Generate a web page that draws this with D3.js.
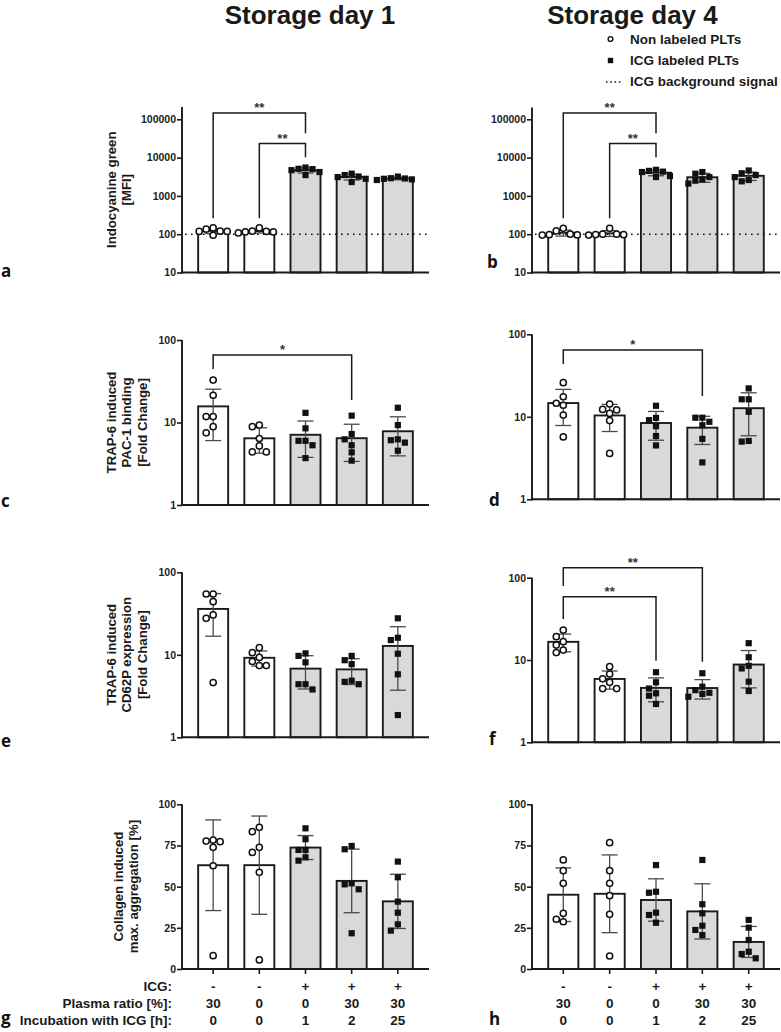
<!DOCTYPE html>
<html><head><meta charset="utf-8">
<script src="https://cdn.jsdelivr.net/npm/d3@7"></script>
<style>body{margin:0;background:#fff}svg{display:block}</style>
</head><body>
<svg id="c" width="781" height="1032"></svg>
<script>
// ---------------- DATA ----------------
const groups = ["G1","G2","G3","G4","G5"];
const labeled = [false,false,true,true,true];
const icgRow = ["-","-","+","+","+"];
const plasmaRow = ["30","0","0","30","30"];
const incubRow = ["0","0","1","2","25"];
const rowLabels = ["ICG:","Plasma ratio [%]:","Incubation with ICG [h]:"];
const colTitles = ["Storage day 1","Storage day 4"];
const legendLabels = ["Non labeled PLTs","ICG labeled PLTs","ICG background signal"];
const icgBackground = 100;

const logTicksICG = [10,100,1000,10000,100000];
const logTicksFold = [1,10,100];
const linTicksAgg = [0,25,50,75,100];

// points per group (6 donors)
const icgDay1 = [[135,118,118,146,120,94],[115,115,118,146,120,108],[5000,5100,5500,4700,4200,3500],[3200,3500,3100,3800,2800,2300],[2900,2850,2800,3200,2700,2600]];
const icgDay4 = [[122,100,142,96,97,95],[98,97,100,142,100,95],[4300,4200,4800,4500,3300,3100],[3800,3100,2700,2500,2100,4200],[3500,4600,3900,3100,2600,2400]];
const pac1Day1 = [[32.7,21.4,11.8,11.8,8.9,7.5],[8.9,9.3,6.4,5.2,4.4,4.4],[13.1,8.5,6.0,6.0,5.3,3.7],[12.1,7.25,6.25,5.3,4.35,3.45],[15.1,9.3,6.25,6.1,5.7,4.55]];
const pac1Day4 = [[25.9,17.5,14.6,13.8,10.5,5.7],[12.3,11,12.1,14.3,9,3.6],[13.6,9.7,9.1,7.7,5.85,4.5],[9.75,8.7,9.75,7.9,5.4,2.8],[22.1,16.3,16.3,11.5,5.1,5.0]];
const cd62pDay1 = [[54.6,54.6,44,30.4,27.7,4.6],[12.2,10.6,9.3,8.3,7.4,7.4],[10.4,9.7,8.1,4.4,4.4,3.8],[9.7,8.6,7.7,4.85,4.7,4.4],[27.7,16.1,15.1,10.3,5.8,1.86]];
const cd62pDay4 = [[23.1,19.2,16.7,15.2,13.2,12.3],[8.3,6.76,5.9,5.36,4.5,4.5],[7.1,5.36,4.5,3.94,3.68,2.92],[6.9,4.3,4.0,4.74,3.87,3.58],[16,10.8,8.5,7.9,5.45,4.2]];
const aggDay1 = [[77.7,77.3,73.9,78.3,62.7,8.1],[83.4,86,73.9,70.8,58.7,5.5],[85.4,78.8,72.3,72.3,67.8,65.8],[72.7,74.7,52,51.4,48.4,21.7],[65.2,55.7,40.9,34.2,27.1,23.3]];
const aggDay4 = [[66.2,59.7,52,33.8,30.2,28.7],[76.7,59.7,52,44.5,33.2,7.9],[63.1,46.9,46.3,34.2,32.8,28.1],[66.2,39.3,33.8,26.3,23.7,20.6],[29.8,25.1,17.6,10.5,9.1,6.5]];

// significance: [groupA, groupB, label, lineValue, legEndA, legEndB] (values in data units)
const sigA = [[0,2,"**",146900,262,43300],[1,2,"**",23300,262,10200]];
const sigB = [[0,2,"**",146900,262,43300],[1,2,"**",23300,262,10200]];
const sigC = [[0,3,"*",65.8,44.5,18.7]];
const sigD = [[0,3,"*",64.5,43.6,17.9]];
const sigE = [];
const sigF = [[0,3,"**",132,79.3,9.5],[0,2,"**",58.8,31.5,9.8]];
const sigG = [];
const sigH = [];

const titleA = ["Indocyanine green","[MFI]"];
const titleC = ["TRAP-6 induced","PAC-1 binding","[Fold Change]"];
const titleE = ["TRAP-6 induced","CD62P expression","[Fold Change]"];
const titleG = ["Collagen induced","max. aggregation [%]"];

// ---------------- LAYOUT ----------------
const FONT = "'Liberation Sans', Arial, Helvetica, sans-serif";
const TXT = "#1a1a1a";
const cols = [{x0:182, x1:429}, {x0:532, x1:780}];
const panels = [
  {L:"a", col:0, data:icgDay1, type:"log", dom:[10,1e5], rng:[272.5,119.3], top:107, ticks:logTicksICG, bg:true, sig:sigA, title:titleA, tx:[116,131], lp:[1,276.5]},
  {L:"b", col:1, data:icgDay4, type:"log", dom:[10,1e5], rng:[272.5,119.3], top:107.5, ticks:logTicksICG, bg:true, sig:sigB, title:null, lp:[487,268]},
  {L:"c", col:0, data:pac1Day1, type:"log", dom:[1,100], rng:[505,340], top:340, ticks:logTicksFold, sig:sigC, title:titleC, tx:[115.5,131.3,147], lp:[1,507]},
  {L:"d", col:1, data:pac1Day4, type:"log", dom:[1,100], rng:[499.3,334.3], top:334.3, ticks:logTicksFold, sig:sigD, title:null, lp:[489,506]},
  {L:"e", col:0, data:cd62pDay1, type:"log", dom:[1,100], rng:[737.3,572.3], top:572.3, ticks:logTicksFold, sig:sigE, title:titleE, tx:[115.5,131.3,147], lp:[1,747]},
  {L:"f", col:1, data:cd62pDay4, type:"log", dom:[1,100], rng:[742.3,577.7], top:577.7, ticks:logTicksFold, sig:sigF, title:null, lp:[489,745]},
  {L:"g", col:0, data:aggDay1, type:"lin", dom:[0,100], rng:[969,804.3], top:804.3, ticks:linTicksAgg, sig:sigG, title:titleG, tx:[123,138], lp:[1,1024], xt:true},
  {L:"h", col:1, data:aggDay4, type:"lin", dom:[0,100], rng:[969,804.3], top:804.3, ticks:linTicksAgg, sig:sigH, title:null, lp:[489,1025], xt:true}
];

const svg = d3.select("#c");

// column titles
const titleX = [310, 632.5];
colTitles.forEach((t,i)=>{
  svg.append("text").attr("x",titleX[i]).attr("y",24).attr("text-anchor","middle")
    .attr("font-family",FONT).attr("font-weight","bold").attr("font-size",26).attr("fill",TXT).text(t);
});

// legend
const lg = svg.append("g").attr("font-family",FONT).attr("font-weight","bold").attr("font-size",13.5).attr("fill",TXT);
lg.append("circle").attr("cx",610.5).attr("cy",39).attr("r",2.4).attr("fill","#fff").attr("stroke","#111").attr("stroke-width",1.4);
lg.append("rect").attr("x",607.8).attr("y",57.8).attr("width",5.4).attr("height",5.4).attr("fill","#111");
lg.append("line").attr("x1",606).attr("x2",621).attr("y1",82).attr("y2",82).attr("stroke","#111").attr("stroke-width",1.5).attr("stroke-dasharray","1.5,2.8");
legendLabels.forEach((t,i)=>{
  lg.append("text").attr("x",630).attr("y",[43.8,65,86.3][i]).text(t);
});

function swarm(vals, y, cx, d){
  const pts = vals.map(v=>({v, y:y(v)})).sort((a,b)=>a.y-b.y);
  const placed = [];
  pts.forEach(p=>{
    for(let k=0;k<30;k++){
      const off = k===0?0:(k%2===1?-1:1)*Math.ceil(k/2)*d;
      const hit = placed.some(q=>Math.hypot(q.off-off, q.y-p.y) < d*0.97);
      if(!hit){ p.off=off; break; }
    }
    placed.push(p);
  });
  return placed.map(p=>({v:p.v, x:cx+p.off, y:p.y}));
}

panels.forEach(P=>{
  const C = cols[P.col];
  const g = svg.append("g");
  const x = d3.scaleBand().domain(groups).range([C.x0, C.x1]).paddingInner(0.35).paddingOuter(0.35);
  const y = (P.type==="log"? d3.scaleLog(): d3.scaleLinear()).domain(P.dom).range(P.rng);
  const y0 = P.rng[0];
  const bw = x.bandwidth();

  // stats
  const stats = P.data.map(arr=>({mean:d3.mean(arr), sd:d3.deviation(arr)}));

  // bars
  g.selectAll("rect.bar").data(groups).join("rect").attr("class","bar")
    .attr("x",d=>x(d)).attr("width",bw)
    .attr("y",(d,i)=>y(stats[i].mean)).attr("height",(d,i)=>y0-y(stats[i].mean))
    .attr("fill",(d,i)=>labeled[i]?"#d9d9d9":"#ffffff")
    .attr("stroke","#1a1a1a").attr("stroke-width",1.9);

  // background line
  if(P.bg){
    g.append("line").attr("x1",C.x0+3).attr("x2",C.x1-2).attr("y1",y(icgBackground)).attr("y2",y(icgBackground))
      .attr("stroke","#111").attr("stroke-width",1.6).attr("stroke-dasharray","1.6,4.4");
  }

  // error bars
  groups.forEach((gr,i)=>{
    const cx = x(gr)+bw/2, s=stats[i];
    const hi = y(s.mean+s.sd);
    const lo = y(Math.max(s.mean-s.sd, P.dom[0]));
    const eg = g.append("g").attr("stroke","#4a4a4a").attr("stroke-width",1.3);
    eg.append("line").attr("x1",cx).attr("x2",cx).attr("y1",hi).attr("y2",lo);
    eg.append("line").attr("x1",cx-8).attr("x2",cx+8).attr("y1",hi).attr("y2",hi);
    if(s.mean-s.sd>P.dom[0]) eg.append("line").attr("x1",cx-8).attr("x2",cx+8).attr("y1",lo).attr("y2",lo);
  });

  // points
  groups.forEach((gr,i)=>{
    const cx = x(gr)+bw/2;
    const pts = swarm(P.data[i], y, cx, 7);
    if(labeled[i]){
      g.selectAll(null).data(pts).join("rect")
        .attr("x",p=>p.x-3.1).attr("y",p=>p.y-3.1).attr("width",6.2).attr("height",6.2).attr("fill","#111");
    } else {
      g.selectAll(null).data(pts).join("circle")
        .attr("cx",p=>p.x).attr("cy",p=>p.y).attr("r",3.1)
        .attr("fill","#fff").attr("stroke","#111").attr("stroke-width",1.5);
    }
  });

  // y axis
  const ax = g.append("g").attr("transform",`translate(${C.x0},0)`)
    .call(d3.axisLeft(y).tickValues(P.ticks).tickSize(5).tickSizeOuter(0).tickFormat(d3.format("d")));
  ax.select(".domain").remove();
  ax.selectAll(".tick line").attr("stroke","#1a1a1a").attr("stroke-width",1.6);
  ax.selectAll(".tick text").attr("font-family",FONT).attr("font-weight","bold").attr("font-size",10.5).attr("fill","#222").attr("x",-6);
  g.append("line").attr("x1",C.x0).attr("x2",C.x0).attr("y1",y0+1).attr("y2",P.top).attr("stroke","#1a1a1a").attr("stroke-width",1.9);
  // x axis
  g.append("line").attr("x1",C.x0-1).attr("x2",C.x1).attr("y1",y0).attr("y2",y0).attr("stroke","#1a1a1a").attr("stroke-width",1.9);
  if(P.xt){
    const xa = g.append("g").attr("transform",`translate(0,${y0})`).call(d3.axisBottom(x).tickSize(5).tickSizeOuter(0).tickFormat(""));
    xa.select(".domain").remove();
    xa.selectAll(".tick line").attr("stroke","#1a1a1a").attr("stroke-width",1.6);
    const rows=[icgRow,plasmaRow,incubRow], rowY=[991,1007.5,1025];
    rows.forEach((r,ri)=>{
      g.selectAll(null).data(groups).join("text")
        .attr("x",d=>x(d)+bw/2).attr("y",rowY[ri]).attr("text-anchor","middle")
        .attr("font-family",FONT).attr("font-weight","bold").attr("font-size",13.5).attr("fill",TXT)
        .text((d,i)=>r[i]);
      if(P.col===0){
        g.append("text").attr("x",172).attr("y",rowY[ri]).attr("text-anchor","end")
          .attr("font-family",FONT).attr("font-weight","bold").attr("font-size",13.5).attr("fill",TXT).text(rowLabels[ri]);
      }
    });
  }

  // significance brackets
  P.sig.forEach(s=>{
    const xa = x(groups[s[0]])+bw/2, xb = x(groups[s[1]])+bw/2;
    const ly = y(s[3]);
    g.append("path").attr("d",`M${xa},${y(s[4])}V${ly}H${xb}V${y(s[5])}`)
      .attr("fill","none").attr("stroke","#1a1a1a").attr("stroke-width",1.5);
    g.append("text").attr("x",(xa+xb)/2).attr("y",ly-1).attr("text-anchor","middle")
      .attr("font-family",FONT).attr("font-weight","bold").attr("font-size",13).attr("fill","#333").text(s[2]);
  });

  // y title
  if(P.title){
    const cy = (y0+P.top)/2;
    const tg = g.append("g").attr("transform",`translate(0,${cy}) rotate(-90)`);
    P.title.forEach((t,i)=>{
      tg.append("text").attr("x",0).attr("y",P.tx[i]).attr("text-anchor","middle")
        .attr("font-family",FONT).attr("font-weight","bold").attr("font-size",13.2).attr("fill",TXT).text(t);
    });
  }

  // panel letter
  svg.append("text").attr("x",P.lp[0]).attr("y",P.lp[1])
    .attr("font-family","'Open Sans', 'DejaVu Sans', sans-serif").attr("font-weight","bold").attr("font-size",17).attr("fill","#111").text(P.L);
});
</script>
</body></html>
